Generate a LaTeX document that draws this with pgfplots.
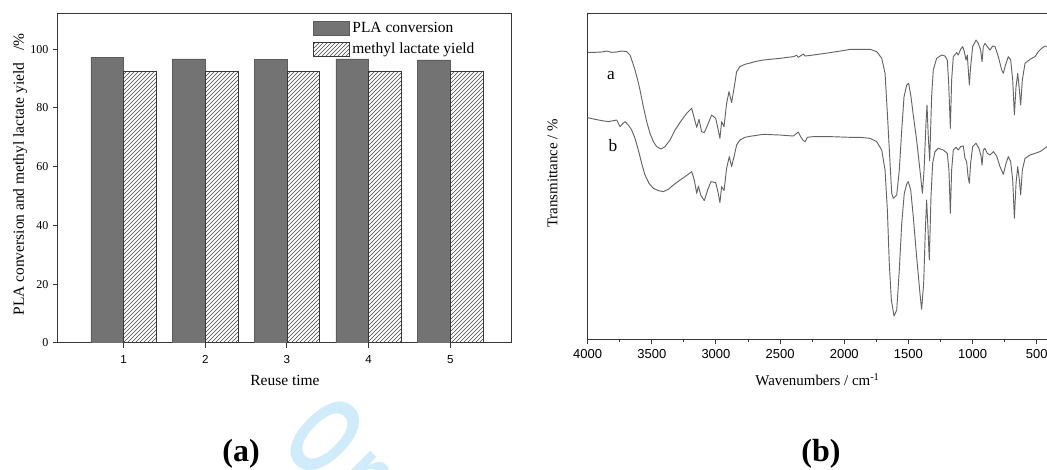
\documentclass[border=0pt]{standalone}
\usepackage{fontspec}
\setmainfont{Liberation Serif}
\newfontfamily\arial{Liberation Sans}
\usepackage{pgfplots}
\pgfplotsset{compat=1.18}
\usetikzlibrary{patterns}
\definecolor{barfill}{RGB}{115,115,115}
\definecolor{hatch}{RGB}{70,70,70}
\definecolor{frame}{RGB}{55,55,55}
\definecolor{curve}{RGB}{100,100,100}
\definecolor{wm}{RGB}{208,236,250}

\pgfplotstableread{
run conv yield
1 97.3 92.4
2 96.7 92.4
3 96.6 92.4
4 96.7 92.6
5 96.4 92.4
}\reuse

\pgfplotstableread{
wn T
4000 287.0
3943 287.0
3891 287.3
3852 288.3
3813 287.0
3774 287.3
3735 288.3
3696 287.7
3670 284.3
3652 277.7
3631 269.3
3610 259.3
3592 249.3
3566 232.7
3540 217.7
3514 206.0
3488 197.7
3462 192.7
3428 190.3
3397 192.7
3358 199.3
3319 209.3
3267 219.3
3228 226.0
3189 231.0
3169 221.0
3150 212.0
3132 220.0
3112 207.7
3091 206.7
3065 214.3
3034 224.3
3002 221.0
2982 209.3
2969 201.0
2956 217.7
2937 212.7
2917 236.0
2898 247.7
2878 236.7
2857 252.7
2839 267.7
2813 272.7
2774 275.0
2722 276.7
2696 277.7
2631 279.3
2501 281.0
2397 282.7
2371 284.0
2358 282.0
2319 285.3
2306 283.3
2241 284.3
2111 286.7
1981 289.3
1955 290.0
1877 290.0
1799 290.0
1747 287.7
1708 281.0
1682 266.0
1664 226.0
1643 176.0
1630 146.0
1617 141.0
1591 144.3
1571 169.3
1552 209.3
1534 242.7
1513 254.3
1498 256.0
1480 242.7
1462 224.3
1436 199.3
1410 169.3
1391 146.0
1378 169.3
1363 216.0
1355 234.3
1345 202.7
1334 178.7
1319 242.7
1306 269.3
1280 281.0
1241 284.3
1215 283.3
1197 279.3
1186 256.0
1173 211.0
1163 259.3
1150 282.7
1124 286.7
1111 284.3
1093 290.0
1077 292.7
1064 287.7
1051 279.3
1041 284.3
1025 254.3
1015 272.7
999 292.7
973 299.3
955 296.0
937 289.3
926 277.7
916 292.7
903 296.0
885 292.7
864 289.3
843 293.3
825 292.7
799 282.7
773 269.3
760 266.0
747 272.7
721 282.7
703 279.3
687 259.3
674 224.3
661 252.7
648 266.0
635 249.3
625 234.3
612 259.3
591 276.0
552 280.0
513 282.7
487 287.7
461 291.0
435 293.3
420 292.7
400 293.0
}\specA

\pgfplotstableread{
wn T
4000 221.7
3943 220.0
3891 218.7
3839 217.7
3800 218.7
3774 219.3
3748 212.7
3730 215.3
3709 217.7
3683 214.3
3657 209.3
3631 201.0
3605 189.3
3579 176.0
3553 164.3
3522 156.0
3488 151.0
3449 148.7
3410 147.7
3371 150.0
3332 154.3
3280 159.3
3241 162.7
3189 167.7
3169 159.3
3150 146.0
3137 153.3
3119 144.3
3091 138.7
3065 149.3
3039 157.7
3002 156.7
2982 146.0
2969 136.7
2956 152.7
2937 148.7
2917 171.0
2896 182.7
2878 172.7
2859 182.7
2839 194.3
2813 199.3
2774 202.0
2722 203.3
2696 203.7
2631 205.0
2501 204.3
2397 203.3
2371 206.0
2358 207.3
2340 202.7
2319 198.7
2304 197.7
2288 202.0
2241 202.7
2111 202.7
1955 202.0
1877 202.0
1799 201.0
1747 197.7
1708 189.3
1682 169.3
1664 129.3
1649 76.0
1633 39.3
1612 23.3
1591 29.3
1571 69.3
1552 116.0
1532 146.0
1513 155.3
1501 157.7
1482 149.3
1462 122.7
1436 82.7
1410 46.0
1397 30.0
1381 56.0
1368 109.3
1358 139.3
1347 109.3
1337 79.3
1324 142.7
1311 176.0
1293 187.7
1267 191.0
1228 189.3
1197 186.0
1184 169.3
1173 126.0
1163 169.3
1150 189.3
1129 192.0
1111 189.3
1093 192.7
1072 193.3
1059 181.0
1046 177.7
1035 162.7
1025 156.0
1015 176.0
999 192.7
973 196.0
950 191.0
934 183.3
926 174.3
916 189.3
903 191.0
885 186.0
864 184.3
838 187.7
812 183.3
786 172.7
760 165.0
739 176.0
721 182.7
703 177.7
687 159.3
674 121.0
661 156.0
648 172.7
635 159.3
625 144.3
612 169.3
591 181.0
552 184.3
513 186.0
474 187.7
448 190.0
420 192.7
400 193.0
}\specB

\begin{document}
\begin{tikzpicture}
\useasboundingbox (0,0) rectangle (785.25pt,352.5pt);
% watermark fragment
\node[rotate=-45, xscale=0.6, anchor=base west, inner sep=0pt, text=wm,
      font=\arial\bfseries\fontsize{86}{86}\selectfont] at (209.1pt,18.45pt) {O\kern0.15em n};

% ---------------- (a) bar chart ----------------
\begin{axis}[
  at={(43.5pt,95.25pt)}, anchor=south west,
  scale only axis, width=340.5pt, height=246.75pt,
  xmin=0.197, xmax=5.755, ymin=0, ymax=112,
  axis line style={frame, line width=0.75pt},
  every tick/.style={frame, line width=0.75pt},
  tick align=outside, major tick length=3.75pt,
  xtick pos=left, ytick pos=left,
  xtick={1,2,3,4,5}, ytick={0,20,40,60,80,100},
  /pgf/number format/assume math mode=true,
  xticklabel style={font=\arial\fontsize{8.7}{10}\selectfont, yshift=-2.25pt},
  yticklabel style={font=\fontsize{9}{10}\selectfont},
  xlabel={Reuse time},
  ylabel={PLA conversion and methyl lactate yield\hspace{0.75em}/\%},
  label style={font=\fontsize{11.6}{13}\selectfont},
  xlabel style={at={(axis description cs:0.5,-0.1307)}, anchor=base},
  ylabel style={at={(axis description cs:-0.0753,0.512)}, anchor=base, rotate=0},
  legend style={at={(0.561,0.983)}, anchor=north west, draw=none, fill=none,
    inner sep=0pt, font=\fontsize{11.6}{13}\selectfont, row sep=2pt},
  legend cell align=left,
  legend image code/.code={\draw[#1] (0pt,-5.25pt) rectangle (27pt,5.25pt);},
]
\addplot[ybar, bar width=0.4, bar shift=-0.2, fill=barfill, draw=barfill!80!black, line width=0.4pt]
  table[x=run, y=conv] {\reuse};
\addlegendentry{PLA conversion}
\addplot[ybar, bar width=0.4, bar shift=0.2, draw=frame, line width=0.6pt,
  pattern=north east lines, pattern color=hatch]
  table[x=run, y=yield] {\reuse};
\addlegendentry{methyl lactate yield}
\end{axis}

% ---------------- (b) FTIR spectra ----------------
\begin{axis}[
  at={(440.75pt,98.0pt)}, anchor=south west,
  scale only axis, width=346.4pt, height=244.5pt,
  x dir=reverse, xmin=400, xmax=4000, ymin=0, ymax=326,
  axis line style={frame, line width=0.75pt},
  every tick/.style={frame, line width=0.75pt},
  tick align=outside, major tick length=3.75pt, minor tick length=2.25pt,
  xtick pos=left, ytick=\empty,
  xtick={500,1000,1500,2000,2500,3000,3500,4000},
  minor x tick num=1,
  /pgf/number format/assume math mode=true,
  /pgf/number format/set thousands separator={},
  xticklabel style={font=\arial\fontsize{9.75}{11}\selectfont},
  xlabel={Wavenumbers / cm\textsuperscript{-1}},
  ylabel={Transmittance / \%},
  label style={font=\fontsize{11.2}{13}\selectfont},
  xlabel style={at={(axis description cs:0.4976,-0.143)}, anchor=base},
  ylabel style={at={(axis description cs:-0.0654,0.509)}, anchor=base},
  clip=true,
]
\addplot[curve, line width=0.7pt, line join=round] table[x=wn, y=T] {\specA};
\addplot[curve, line width=0.7pt, line join=round] table[x=wn, y=T] {\specB};
\node[font=\fontsize{13}{13}\selectfont] at (axis cs:3818,264) {a};
\node[font=\fontsize{13}{13}\selectfont] at (axis cs:3803,194) {b};
\end{axis}

\node[font=\bfseries\fontsize{24}{24}\selectfont] at (180.75pt,12pt) {(a)};
\node[font=\bfseries\fontsize{24}{24}\selectfont] at (615.75pt,12pt) {(b)};
\end{tikzpicture}
\end{document}
